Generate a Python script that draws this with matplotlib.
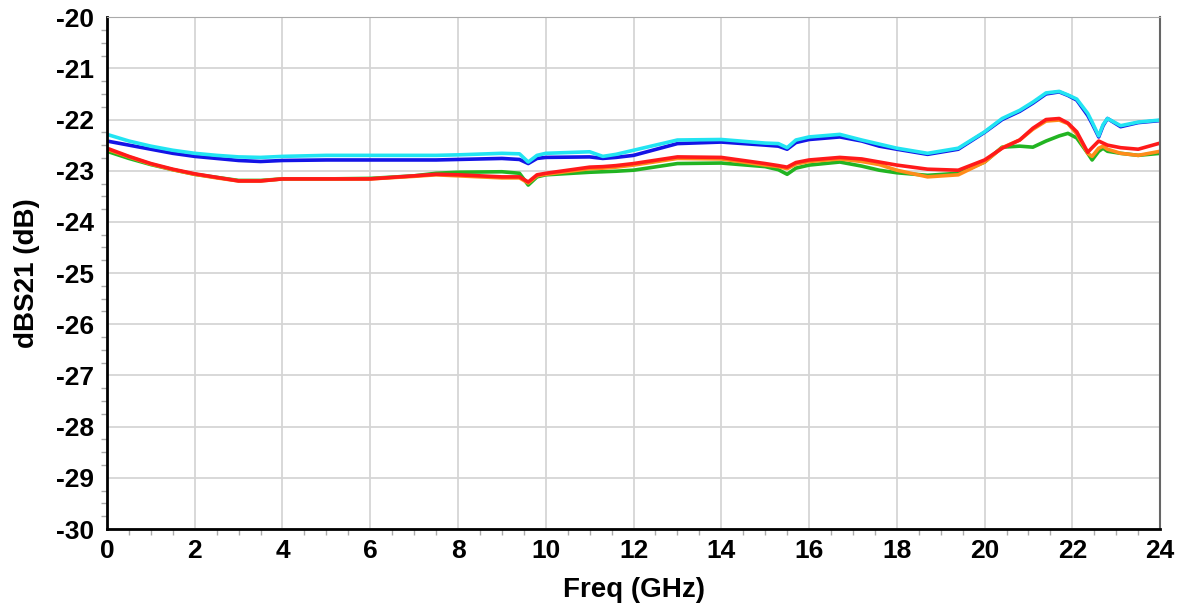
import matplotlib.pyplot as plt
from matplotlib.ticker import MultipleLocator

# frequency grid (GHz) shared by all traces
freq = [0, 0.5, 1, 1.5, 2, 2.5, 3, 3.5, 4, 5, 6, 7, 7.5, 8, 9, 9.4, 9.6, 9.8, 10,
        11, 11.3, 11.6, 12, 13, 14, 15, 15.3, 15.5, 15.7, 16, 16.7, 17.2, 17.6,
        18, 18.7, 19.4, 20, 20.4, 20.8, 21.1, 21.4, 21.7, 21.9, 22.1, 22.35,
        22.45, 22.6, 22.7, 22.8, 23.1, 23.5, 24]

# dBS21 traces (dB)
s21_cyan = [-22.29, -22.42, -22.52, -22.60, -22.66, -22.70, -22.73, -22.74, -22.72,
            -22.70, -22.70, -22.70, -22.70, -22.69, -22.66, -22.67, -22.83, -22.70,
            -22.66, -22.63, -22.72, -22.68, -22.60, -22.40, -22.39, -22.46, -22.47,
            -22.55, -22.40, -22.34, -22.29, -22.40, -22.48, -22.56, -22.66, -22.56,
            -22.24, -21.98, -21.82, -21.66, -21.48, -21.45, -21.52, -21.60, -21.88,
            -22.05, -22.32, -22.10, -21.98, -22.12, -22.05, -22.01]
s21_blue = [-22.42, -22.50, -22.58, -22.66, -22.72, -22.76, -22.80, -22.82, -22.80,
            -22.79, -22.79, -22.79, -22.79, -22.78, -22.76, -22.78, -22.86, -22.76,
            -22.74, -22.73, -22.76, -22.74, -22.70, -22.47, -22.44, -22.50, -22.52,
            -22.58, -22.45, -22.39, -22.34, -22.42, -22.52, -22.58, -22.68, -22.58,
            -22.25, -22.00, -21.84, -21.68, -21.50, -21.46, -21.53, -21.62, -21.92,
            -22.08, -22.34, -22.12, -21.98, -22.14, -22.06, -22.02]
s21_red = [-22.56, -22.72, -22.86, -22.97, -23.06, -23.13, -23.20, -23.20, -23.16,
           -23.16, -23.16, -23.10, -23.07, -23.08, -23.12, -23.12, -23.22, -23.08,
           -23.05, -22.93, -22.92, -22.90, -22.86, -22.73, -22.74, -22.86, -22.90,
           -22.93, -22.84, -22.79, -22.74, -22.77, -22.83, -22.89, -22.97, -22.99,
           -22.79, -22.56, -22.40, -22.17, -22.00, -21.98, -22.07, -22.24, -22.64,
           -22.55, -22.42, -22.46, -22.50, -22.55, -22.58, -22.46]
s21_orange = [-22.58, -22.73, -22.87, -22.98, -23.07, -23.14, -23.20, -23.20, -23.16,
              -23.16, -23.16, -23.11, -23.08, -23.10, -23.14, -23.14, -23.24, -23.10,
              -23.07, -22.96, -22.95, -22.93, -22.89, -22.76, -22.77, -22.89, -22.92,
              -22.96, -22.87, -22.82, -22.77, -22.82, -22.88, -22.99, -23.12, -23.08,
              -22.83, -22.55, -22.40, -22.19, -22.03, -22.01, -22.08, -22.28, -22.66,
              -22.72, -22.56, -22.52, -22.58, -22.66, -22.70, -22.62]
s21_green = [-22.62, -22.76, -22.88, -22.98, -23.07, -23.13, -23.19, -23.19, -23.16,
             -23.16, -23.15, -23.10, -23.05, -23.03, -23.02, -23.05, -23.28, -23.12,
             -23.08, -23.03, -23.02, -23.01, -22.99, -22.86, -22.85, -22.92, -22.98,
             -23.07, -22.95, -22.89, -22.83, -22.91, -22.99, -23.04, -23.09, -23.05,
             -22.83, -22.54, -22.52, -22.54, -22.42, -22.32, -22.27, -22.36, -22.66,
             -22.79, -22.62, -22.56, -22.62, -22.66, -22.70, -22.66]

plt.rcParams['font.family'] = ['Liberation Sans', 'DejaVu Sans']
plt.rcParams['font.weight'] = 'bold'
plt.rcParams['axes.unicode_minus'] = False

fig = plt.figure(figsize=(11.82, 6.13), dpi=100)
ax = fig.add_axes([0.0905, 0.137, 0.891, 0.835])

# draw order: lower group first, then upper pair
ax.plot(freq, s21_green, color='#22B422', lw=2.6)
ax.plot(freq, s21_orange, color='#FF8C1A', lw=2.6)
ax.plot(freq, s21_red, color='#FF1A1A', lw=2.6)
ax.plot(freq, s21_blue, color='#1414E6', lw=2.6)
ax.plot(freq, s21_cyan, color='#22E4F2', lw=2.6)

ax.set_xlim(0, 24)
ax.set_ylim(-30, -20)
ax.xaxis.set_major_locator(MultipleLocator(2))
ax.xaxis.set_minor_locator(MultipleLocator(0.5))
ax.yaxis.set_major_locator(MultipleLocator(1))
ax.yaxis.set_minor_locator(MultipleLocator(0.25))
ax.grid(True, which='major', color='#D5D5D5', lw=1.3)
ax.set_axisbelow(True)

ax.tick_params(which='major', length=0, labelsize=19, pad=9)
ax.tick_params(axis='x', which='major', pad=7)
ax.tick_params(which='minor', length=4, width=1, color='#AAAAAA', direction='out')

for side in ['left', 'bottom']:
    ax.spines[side].set_linewidth(2)
    ax.spines[side].set_color('black')
ax.spines['top'].set_color('#AAAAAA')
ax.spines['right'].set_color('#666666')
ax.spines['right'].set_linewidth(1.5)

ax.set_xlabel('Freq (GHz)', fontsize=20, fontweight='bold', labelpad=10)
ax.set_ylabel('dBS21 (dB)', fontsize=20, fontweight='bold', labelpad=12)

fig.savefig('out.png', dpi=100)
